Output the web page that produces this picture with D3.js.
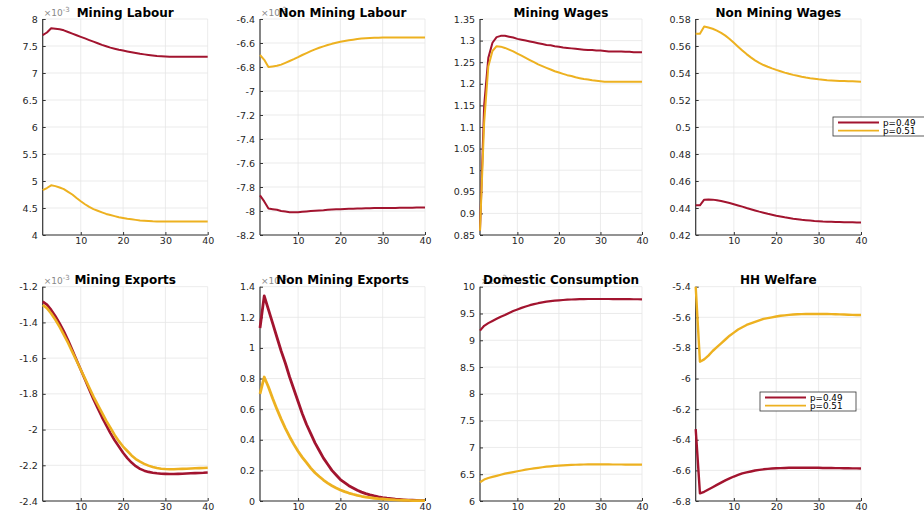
<!DOCTYPE html>
<html>
<head>
<meta charset="utf-8">
<script src="https://cdn.jsdelivr.net/npm/d3@7"></script>
<style>
body{margin:0;background:#fff;}
svg{display:block;font-family:"DejaVu Sans",Arial,sans-serif;}
</style>
</head>
<body>
<div id="chart"></div>
<script>
// periods 1..40
var periods = d3.range(1, 41);
var seriesNames = ['p=0.49', 'p=0.51'];

// Mining Labour (x10^-3)
var miningLabour49 = [7.70,7.75,7.83,7.82,7.81,7.79,7.76,7.73,7.70,7.67,7.64,7.61,7.58,7.55,7.52,7.495,7.47,7.45,7.43,7.415,7.40,7.385,7.37,7.355,7.345,7.335,7.325,7.315,7.31,7.305,7.30,7.30,7.30,7.30,7.30,7.30,7.30,7.30,7.30,7.30];
var miningLabour51 = [4.83,4.87,4.92,4.905,4.88,4.85,4.80,4.75,4.685,4.625,4.57,4.52,4.48,4.45,4.42,4.39,4.37,4.35,4.33,4.315,4.30,4.29,4.28,4.27,4.265,4.26,4.255,4.252,4.25,4.25,4.25,4.25,4.25,4.25,4.25,4.25,4.25,4.25,4.25,4.25];

// Non Mining Labour (x10^-3)
var nonMiningLabour49 = [-7.87,-7.92,-7.98,-7.985,-7.99,-8.00,-8.005,-8.01,-8.01,-8.01,-8.007,-8.004,-8.001,-7.998,-7.995,-7.993,-7.99,-7.988,-7.986,-7.985,-7.983,-7.982,-7.981,-7.98,-7.979,-7.978,-7.977,-7.976,-7.976,-7.975,-7.975,-7.974,-7.974,-7.973,-7.973,-7.972,-7.972,-7.971,-7.971,-7.97];
var nonMiningLabour51 = [-6.70,-6.74,-6.80,-6.795,-6.79,-6.78,-6.765,-6.75,-6.735,-6.718,-6.70,-6.684,-6.668,-6.653,-6.64,-6.628,-6.617,-6.607,-6.598,-6.59,-6.583,-6.577,-6.572,-6.567,-6.563,-6.56,-6.558,-6.557,-6.556,-6.555,-6.555,-6.555,-6.555,-6.555,-6.555,-6.555,-6.555,-6.555,-6.555,-6.555];

// Mining Wages
var miningWages49 = [0.86,1.15,1.26,1.295,1.308,1.311,1.311,1.309,1.307,1.304,1.302,1.300,1.298,1.296,1.294,1.292,1.290,1.289,1.287,1.286,1.284,1.283,1.282,1.281,1.280,1.279,1.278,1.278,1.277,1.277,1.276,1.275,1.275,1.275,1.275,1.274,1.274,1.273,1.273,1.273];
var miningWages51 = [0.86,1.11,1.24,1.276,1.287,1.286,1.283,1.279,1.275,1.270,1.265,1.260,1.255,1.250,1.245,1.241,1.237,1.233,1.229,1.226,1.223,1.220,1.218,1.215,1.213,1.211,1.210,1.208,1.207,1.206,1.205,1.205,1.205,1.205,1.205,1.205,1.205,1.205,1.205,1.205];

// Non Mining Wages
var nonMiningWages49 = [0.442,0.442,0.4462,0.4463,0.4462,0.4458,0.4452,0.4445,0.4437,0.4428,0.4419,0.441,0.44,0.4391,0.4382,0.4373,0.4365,0.4357,0.435,0.4343,0.4337,0.4331,0.4326,0.4321,0.4317,0.4313,0.431,0.4307,0.4304,0.4302,0.43,0.4299,0.4298,0.4297,0.4296,0.4295,0.4294,0.4294,0.4293,0.4293];
var nonMiningWages51 = [0.569,0.569,0.5745,0.5737,0.5728,0.5714,0.5697,0.5677,0.5652,0.5624,0.5595,0.5567,0.554,0.5516,0.5494,0.5475,0.5459,0.5446,0.5434,0.5423,0.5413,0.5403,0.5394,0.5386,0.5379,0.5372,0.5366,0.5361,0.5357,0.5353,0.535,0.5347,0.5345,0.5343,0.5341,0.534,0.5339,0.5338,0.5337,0.5336];

// Mining Exports (x10^-3)
var miningExports49 = [-1.284,-1.30,-1.33,-1.365,-1.405,-1.45,-1.50,-1.555,-1.61,-1.665,-1.72,-1.775,-1.83,-1.88,-1.93,-1.975,-2.02,-2.06,-2.095,-2.13,-2.16,-2.185,-2.205,-2.22,-2.23,-2.237,-2.242,-2.245,-2.247,-2.248,-2.249,-2.249,-2.248,-2.247,-2.246,-2.245,-2.244,-2.243,-2.242,-2.24];
var miningExports51 = [-1.302,-1.32,-1.35,-1.385,-1.425,-1.47,-1.515,-1.565,-1.615,-1.665,-1.715,-1.765,-1.815,-1.86,-1.905,-1.95,-1.99,-2.03,-2.065,-2.095,-2.12,-2.145,-2.165,-2.18,-2.192,-2.202,-2.21,-2.215,-2.219,-2.221,-2.222,-2.222,-2.221,-2.22,-2.219,-2.218,-2.217,-2.216,-2.215,-2.214];

// Non Mining Exports (x10^-3)
var nonMiningExports49 = [1.13,1.34,1.25,1.16,1.07,0.98,0.90,0.81,0.73,0.65,0.57,0.50,0.44,0.38,0.33,0.28,0.24,0.20,0.17,0.14,0.12,0.10,0.085,0.07,0.058,0.048,0.04,0.033,0.027,0.022,0.018,0.015,0.012,0.01,0.008,0.006,0.005,0.004,0.003,0.002];
var nonMiningExports51 = [0.70,0.81,0.745,0.67,0.60,0.535,0.475,0.42,0.37,0.325,0.285,0.25,0.215,0.185,0.16,0.137,0.117,0.10,0.085,0.072,0.061,0.052,0.044,0.037,0.031,0.026,0.022,0.018,0.015,0.013,0.011,0.009,0.007,0.006,0.005,0.004,0.003,0.003,0.002,0.002];

// Domestic Consumption (x10^-3)
var domesticConsumption49 = [9.18,9.27,9.32,9.36,9.40,9.44,9.47,9.51,9.545,9.575,9.605,9.63,9.655,9.675,9.692,9.707,9.72,9.73,9.74,9.746,9.752,9.757,9.761,9.764,9.767,9.769,9.77,9.77,9.77,9.77,9.77,9.77,9.769,9.768,9.768,9.767,9.767,9.766,9.766,9.765];
var domesticConsumption51 = [6.35,6.40,6.43,6.45,6.47,6.49,6.51,6.525,6.54,6.555,6.57,6.585,6.598,6.61,6.62,6.63,6.64,6.648,6.655,6.66,6.665,6.67,6.674,6.677,6.679,6.681,6.682,6.682,6.682,6.682,6.682,6.682,6.681,6.681,6.681,6.68,6.68,6.68,6.68,6.68];

// HH Welfare
var hhWelfare49 = [-6.33,-6.75,-6.74,-6.725,-6.71,-6.695,-6.68,-6.665,-6.652,-6.64,-6.63,-6.62,-6.613,-6.607,-6.601,-6.597,-6.593,-6.59,-6.588,-6.586,-6.585,-6.584,-6.583,-6.583,-6.583,-6.583,-6.583,-6.583,-6.583,-6.583,-6.584,-6.584,-6.584,-6.585,-6.585,-6.586,-6.586,-6.587,-6.587,-6.588];
var hhWelfare51 = [-5.40,-5.89,-5.875,-5.85,-5.82,-5.795,-5.77,-5.745,-5.72,-5.70,-5.68,-5.665,-5.65,-5.64,-5.63,-5.62,-5.61,-5.605,-5.60,-5.595,-5.59,-5.587,-5.584,-5.582,-5.58,-5.579,-5.578,-5.578,-5.578,-5.578,-5.578,-5.578,-5.579,-5.58,-5.581,-5.582,-5.583,-5.584,-5.585,-5.585];

// tick labels
var xTicks = [10, 20, 30, 40];
var yTicksML = [4,4.5,5,5.5,6,6.5,7,7.5,8];
var yTicksNML = [-8.2,-8,-7.8,-7.6,-7.4,-7.2,-7,-6.8,-6.6,-6.4];
var yTicksMW = [0.85,0.9,0.95,1,1.05,1.1,1.15,1.2,1.25,1.3,1.35];
var yTicksNMW = [0.42,0.44,0.46,0.48,0.5,0.52,0.54,0.56,0.58];
var yTicksME = [-2.4,-2.2,-2,-1.8,-1.6,-1.4,-1.2];
var yTicksNME = [0,0.2,0.4,0.6,0.8,1,1.2,1.4];
var yTicksDC = [6,6.5,7,7.5,8,8.5,9,9.5,10];
var yTicksHW = [-6.8,-6.6,-6.4,-6.2,-6,-5.8,-5.6,-5.4];

var colors = ['#A2142F', '#EDB120'];

var W = 924, H = 513;
var svg = d3.select('#chart').append('svg').attr('width', W).attr('height', H);

var cols = [[42.7, 207.7], [260, 425], [480, 642], [695.7, 861]];
var rows = [[19, 235], [286.7, 501]];

var panels = [
	{title:'Mining Labour', a:miningLabour49, b:miningLabour51, ticks:yTicksML, exp:'-3', c:0, r:0, lw:2},
	{title:'Non Mining Labour', a:nonMiningLabour49, b:nonMiningLabour51, ticks:yTicksNML, exp:'-3', c:1, r:0, lw:2},
	{title:'Mining Wages', a:miningWages49, b:miningWages51, ticks:yTicksMW, exp:null, c:2, r:0, lw:2},
	{title:'Non Mining Wages', a:nonMiningWages49, b:nonMiningWages51, ticks:yTicksNMW, exp:null, c:3, r:0, lw:2, legend:[833, 117]},
	{title:'Mining Exports', a:miningExports49, b:miningExports51, ticks:yTicksME, exp:'-3', c:0, r:1, lw:2.6},
	{title:'Non Mining Exports', a:nonMiningExports49, b:nonMiningExports51, ticks:yTicksNME, exp:'-3', c:1, r:1, lw:2.8},
	{title:'Domestic Consumption', a:domesticConsumption49, b:domesticConsumption51, ticks:yTicksDC, exp:'-3', c:2, r:1, lw:2.2},
	{title:'HH Welfare', a:hhWelfare49, b:hhWelfare51, ticks:yTicksHW, exp:null, c:3, r:1, lw:2.4, legend:[760, 392]}
];

panels.forEach(function(p){
	var x0 = cols[p.c][0], x1 = cols[p.c][1];
	var y0 = rows[p.r][0], y1 = rows[p.r][1];
	var x = d3.scaleLinear().domain([1, 40]).range([x0, x1]);
	var y = d3.scaleLinear().domain([p.ticks[0], p.ticks[p.ticks.length - 1]]).range([y1, y0]);
	var g = svg.append('g');

	// grid
	g.selectAll('.gx').data(xTicks).enter().append('line')
		.attr('x1', function(d){return x(d);}).attr('x2', function(d){return x(d);})
		.attr('y1', y0).attr('y2', y1)
		.attr('stroke', '#e6e6e6').attr('stroke-width', 0.8);
	g.selectAll('.gy').data(p.ticks).enter().append('line')
		.attr('x1', x0).attr('x2', x1)
		.attr('y1', function(d){return y(d);}).attr('y2', function(d){return y(d);})
		.attr('stroke', '#e6e6e6').attr('stroke-width', 0.8);

	// axes
	var ax = g.append('g').attr('transform', 'translate(0,' + y1 + ')')
		.call(d3.axisBottom(x).tickValues(xTicks).tickSize(-3).tickPadding(2).tickFormat(d3.format('d')));
	var ay = g.append('g').attr('transform', 'translate(' + x0 + ',0)')
		.call(d3.axisLeft(y).tickValues(p.ticks).tickSize(-3).tickPadding(5).tickFormat(function(d){return String(+d.toFixed(2));}));
	[ax, ay].forEach(function(a){
		a.select('.domain').attr('stroke', '#333').attr('stroke-width', 1.2);
		a.selectAll('.tick line').attr('stroke', '#333');
		a.selectAll('text').attr('fill', '#262626').attr('font-size', 9.5).attr('font-family', '"DejaVu Sans",Arial,sans-serif');
	});
	ax.select('.domain').attr('d', 'M' + x0 + ',0H' + x1);
	ay.select('.domain').attr('d', 'M0,' + y1 + 'V' + y0);

	// exponent (sits under the title, as in the source figure)
	if (p.exp){
		var e = g.append('text').attr('x', x0 + 1).attr('y', y0 - 3)
			.attr('font-size', 9).attr('fill', '#888');
		e.append('tspan').text('\u00d710');
		e.append('tspan').attr('dy', -4).attr('font-size', 7).text(p.exp);
	}

	// lines
	var line = d3.line()
		.x(function(d, i){return x(periods[i]);})
		.y(function(d){return y(d);});
	[p.a, p.b].forEach(function(s, k){
		g.append('path').datum(s)
			.attr('d', line)
			.attr('fill', 'none')
			.attr('stroke', colors[k])
			.attr('stroke-width', p.lw)
			.attr('stroke-linejoin', 'round');
	});

	// title
	g.append('text').attr('x', (x0 + x1) / 2).attr('y', y0 - 2.5)
		.attr('text-anchor', 'middle').attr('font-weight', 'bold')
		.attr('font-size', 12).attr('fill', '#000')
		.text(p.title);

	// legend
	if (p.legend){
		var lx = p.legend[0], ly = p.legend[1];
		var lg = g.append('g');
		lg.append('rect').attr('x', lx).attr('y', ly).attr('width', 96).attr('height', 19)
			.attr('fill', '#fff').attr('stroke', '#333').attr('stroke-width', 0.8);
		seriesNames.forEach(function(n, k){
			var yy = ly + 5.5 + k * 8.2;
			lg.append('line').attr('x1', lx + 5).attr('x2', lx + 46).attr('y1', yy).attr('y2', yy)
				.attr('stroke', colors[k]).attr('stroke-width', 1.8);
			lg.append('text').attr('x', lx + 50).attr('y', yy + 3.2)
				.attr('font-size', 8.8).attr('fill', '#000').text(n);
		});
	}
});
</script>
</body>
</html>
